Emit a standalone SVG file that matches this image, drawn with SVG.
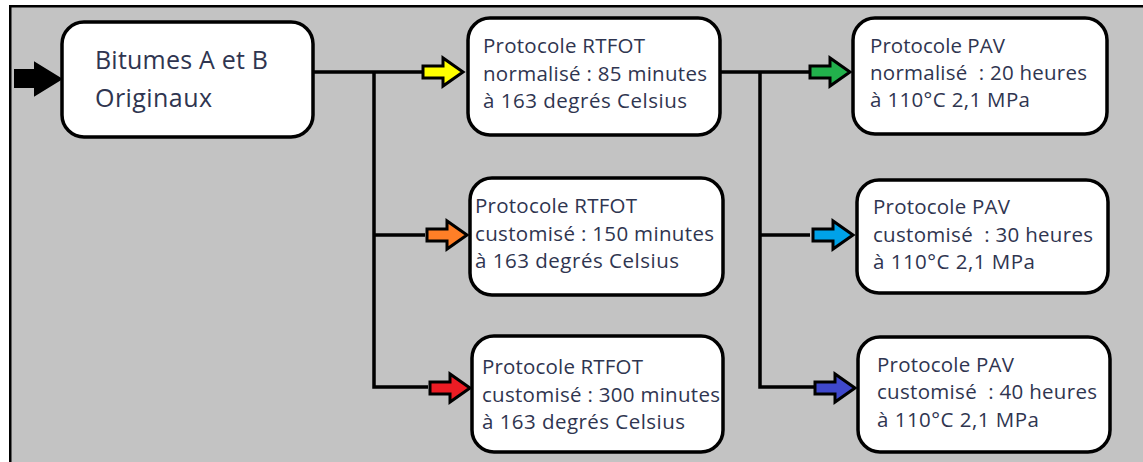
<svg xmlns="http://www.w3.org/2000/svg" width="1143" height="462" viewBox="0 0 1143 462">
<defs>
<style>
.box{fill:#ffffff;stroke:#000000;stroke-width:3.5}
.t{font-family:"Open Sans","Liberation Sans",sans-serif;font-size:20.5px;fill:#2f3550;white-space:pre}
.t1{font-family:"Open Sans","Liberation Sans",sans-serif;font-size:25px;fill:#2f3550}
.ln{fill:none;stroke:#000000;stroke-width:3.5}
.arr{stroke:#000000;stroke-width:3;stroke-linejoin:miter}
</style>
<polygon id="arrow" points="-40,-6 -20,-6 -20,-14 0,0 -20,14 -20,6 -40,6"/>
</defs>
<rect x="0" y="0" width="1143" height="462" fill="#ffffff"/>
<rect x="11" y="7" width="1132" height="455" fill="#c3c3c3"/>
<rect x="9" y="5" width="1134" height="2.5" fill="#000000"/>
<rect x="9" y="5" width="2.5" height="457" fill="#000000"/>

<g id="connectors">
<polygon points="15,70 35,70 35,63 61,79 35,95 35,87 15,87" fill="#000000" stroke="#000000" stroke-width="2"/>
<path class="ln" d="M313,72 H423 M374,72 V387 H428 M374,235 H425"/>
<path class="ln" d="M720,72 H810 M760,72 V387 H814 M760,235 H810"/>
<use href="#arrow" class="arr" fill="#ffff00" transform="translate(463,72)"/>
<use href="#arrow" class="arr" fill="#ff7f27" transform="translate(467,235)"/>
<use href="#arrow" class="arr" fill="#ed1c24" transform="translate(470,388)"/>
<use href="#arrow" class="arr" fill="#22b14c" transform="translate(850,72)"/>
<use href="#arrow" class="arr" fill="#00a2e8" transform="translate(853,235)"/>
<use href="#arrow" class="arr" fill="#3f48cc" transform="translate(855,388)"/>
</g>

<g id="node-bitumes">
<rect class="box" x="62" y="22" width="251" height="115" rx="22"/>
<text class="t1" x="95" y="69" textLength="173">Bitumes A et B</text>
<text class="t1" x="95" y="107" textLength="117">Originaux</text>
</g>

<g id="node-rtfot-85">
<rect class="box" x="468" y="18" width="252" height="117" rx="22"/>
<text class="t" x="483" y="53" textLength="162">Protocole RTFOT</text>
<text class="t" x="483" y="81" textLength="224">normalisé : 85 minutes</text>
<text class="t" x="483" y="108" textLength="204">à 163 degrés Celsius</text>
</g>

<g id="node-rtfot-150">
<rect class="box" x="470" y="178" width="253" height="117" rx="22"/>
<text class="t" x="475" y="213" textLength="162">Protocole RTFOT</text>
<text class="t" x="475" y="241" textLength="239">customisé : 150 minutes</text>
<text class="t" x="475" y="268" textLength="204">à 163 degrés Celsius</text>
</g>

<g id="node-rtfot-300">
<rect class="box" x="472" y="336" width="251" height="116" rx="22"/>
<text class="t" x="482" y="374" textLength="161">Protocole RTFOT</text>
<text class="t" x="482" y="402" textLength="238">customisé : 300 minutes</text>
<text class="t" x="482" y="429" textLength="203">à 163 degrés Celsius</text>
</g>

<g id="node-pav-20">
<rect class="box" x="853" y="18" width="254" height="116" rx="22"/>
<text class="t" x="870" y="53" textLength="135">Protocole PAV</text>
<text class="t" x="870" y="80" textLength="217" xml:space="preserve">normalisé  : 20 heures</text>
<text class="t" x="870" y="107" textLength="160">à 110°C 2,1 MPa</text>
</g>

<g id="node-pav-30">
<rect class="box" x="857" y="180" width="251" height="113" rx="22"/>
<text class="t" x="873" y="214" textLength="137">Protocole PAV</text>
<text class="t" x="873" y="242" textLength="220" xml:space="preserve">customisé  : 30 heures</text>
<text class="t" x="873" y="269" textLength="162">à 110°C 2,1 MPa</text>
</g>

<g id="node-pav-40">
<rect class="box" x="858" y="337" width="252" height="115" rx="22"/>
<text class="t" x="877" y="372" textLength="137">Protocole PAV</text>
<text class="t" x="877" y="399" textLength="220" xml:space="preserve">customisé  : 40 heures</text>
<text class="t" x="877" y="427" textLength="162">à 110°C 2,1 MPa</text>
</g>
</svg>
